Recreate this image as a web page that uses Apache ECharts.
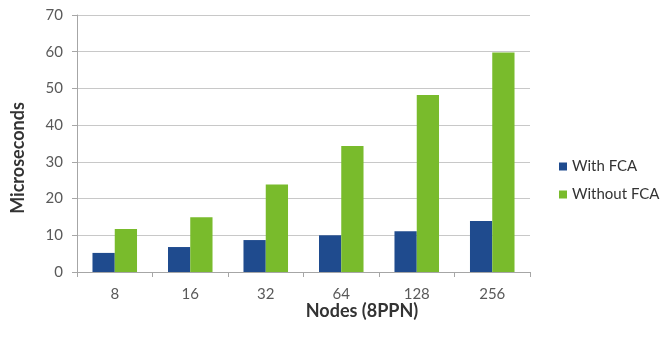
<!DOCTYPE html>
<html>
<head>
<meta charset="utf-8">
<script src="https://cdn.jsdelivr.net/npm/echarts@6/dist/echarts.min.js"></script>
<style>html,body{margin:0;padding:0;background:#fff;}#c{width:669px;height:348px;}</style>
</head>
<body>
<div id="c"></div>
<script>
const categories = ['8', '16', '32', '64', '128', '256'];
const withFCA = [5.2, 6.8, 8.7, 10, 11.1, 13.9];
const withoutFCA = [11.7, 14.9, 23.8, 34.3, 48.2, 59.8];
const yTicks = { min: 0, max: 70, interval: 10 };
const xTitle = 'Nodes (8PPN)';
const yTitle = 'Microseconds';

const font = 'Lato, "Open Sans", sans-serif';
const chart = echarts.init(document.getElementById('c'));
chart.setOption({
  animation: false,
  textStyle: { fontFamily: font },
  grid: { left: 77, right: 139, top: 15, bottom: 76 },
  legend: {
    orient: 'vertical', left: 554, top: 154, itemWidth: 8, itemHeight: 8, itemGap: 13,
    icon: 'rect',
    textStyle: { fontSize: 15, color: '#333', fontFamily: font }
  },
  graphic: [
    { type: 'text', x: 362, y: 311, style: { text: xTitle, fontSize: 18, fontWeight: 'bold', fill: '#333', fontFamily: font, align: 'center', verticalAlign: 'middle' } },
    { type: 'text', x: 18, y: 158, rotation: Math.PI / 2, style: { text: yTitle, fontSize: 18, fontWeight: 'bold', fill: '#333', fontFamily: font, align: 'center', verticalAlign: 'middle' } }
  ],
  xAxis: {
    type: 'category', data: categories,
    axisLine: { lineStyle: { color: '#a6a6a6' } },
    axisTick: { show: true, length: 5, alignWithLabel: false, lineStyle: { color: '#a6a6a6' } },
    axisLabel: { fontSize: 15, color: '#595959', margin: 15 }
  },
  yAxis: {
    type: 'value', min: yTicks.min, max: yTicks.max, interval: yTicks.interval,
    axisLine: { show: true, lineStyle: { color: '#a6a6a6' } },
    axisTick: { show: true, length: 5, lineStyle: { color: '#a6a6a6' } },
    axisLabel: { fontSize: 15, color: '#595959', margin: 14 },
    splitLine: { lineStyle: { color: '#c8c8c8' } }
  },
  series: [
    { name: 'With FCA', type: 'bar', data: withFCA, barGap: '0%', barCategoryGap: '41%',
      itemStyle: { color: '#1f4b8e' } },
    { name: 'Without FCA', type: 'bar', data: withoutFCA, barGap: '0%', barCategoryGap: '41%',
      itemStyle: { color: '#79bb2c' } }
  ]
});
</script>
</body>
</html>
